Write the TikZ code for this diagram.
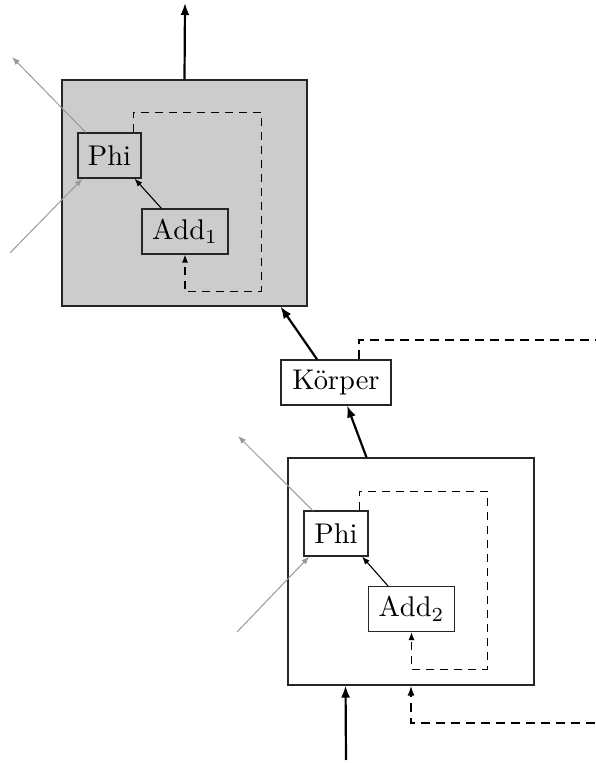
\documentclass[tikz,border=0pt]{standalone}
\usepackage{graphicx}
\usetikzlibrary{arrows.meta,calc}
% labels are set at 10pt and enlarged, keeping the 10pt design of the font
\newcommand{\boxtext}[1]{\scalebox{2.85}{#1}}
\begin{document}
\begin{tikzpicture}[x=1pt,y=1pt,
  every node/.style={font=\fontsize{10}{12}\selectfont},
  block/.style={draw=black!85,line width=1.1pt,inner sep=0pt},
  unit/.style={draw=black!85,line width=1.1pt,inner sep=0pt,minimum height=45pt},
  flow/.style={line width=2.2pt,-{Latex[length=12pt,width=9pt]}},
  link/.style={line width=1.1pt,-{Latex[length=8pt,width=6pt]}},
  side/.style={draw=black!40,line width=1pt,-{Latex[length=8pt,width=6pt]}},
  loop/.style={line width=1.1pt,dash pattern=on 8pt off 6pt,-{Latex[length=8pt,width=6pt]}},
  ctrl/.style={line width=1.8pt,dash pattern=on 9pt off 6pt},
]
\useasboundingbox (0,0) rectangle (595,763);

% upper stage (shaded)
\node[block,fill=black!20,minimum width=245pt,minimum height=226pt] (top) at (184.5,570) {};
\node[unit,minimum width=63pt] (phiA) at (109.5,607.5) {\boxtext{Phi}};
\node[unit,minimum width=86pt] (addA) at (185,531.5) {\boxtext{$\mathrm{Add}_1$}};

% body node between the stages
\node[unit,fill=white,minimum width=110pt] (body) at (336,380.5) {\boxtext{Körper}};

% lower stage
\node[block,minimum width=246pt,minimum height=227pt] (low) at (411,191.5) {};
\node[unit,minimum width=64pt] (phiB) at (336,229.5) {\boxtext{Phi}};
\node[unit,minimum width=86pt] (addB) at (411.5,154) {\boxtext{$\mathrm{Add}_2$}};

% free ends
\coordinate (outTop) at (185,760);
\coordinate (inLow) at (346,3);
\coordinate (ctrlIn) at (595,40);
\coordinate (ctrlOut) at (595,423);
\coordinate (gAout) at (12,706);
\coordinate (gAin) at (10,510);
\coordinate (gBout) at (238,327);
\coordinate (gBin) at (237,131);

% main data flow
\draw[flow] (top.north) -- (outTop);
\draw[flow] ($(body.north west)!0.33!(body.north east)$) -- ($(top.south west)!0.89!(top.south east)$);
\draw[flow] ($(low.north west)!0.32!(low.north east)$) -- ($(body.south west)!0.6!(body.south east)$);
\draw[flow] (inLow) -- ($(low.south west)!0.235!(low.south east)$);

% control path
\draw[ctrl,-{Latex[length=10pt,width=7pt]}] (ctrlIn) -| (low.south);
\draw[ctrl] ($(body.north west)!0.71!(body.north east)$) |- (ctrlOut);

% inside the stages
\draw[link] ($(addA.north west)!0.23!(addA.north east)$) -- ($(phiA.south west)!0.89!(phiA.south east)$);
\draw[link] ($(addB.north west)!0.23!(addB.north east)$) -- ($(phiB.south west)!0.9!(phiB.south east)$);
\draw[loop] ($(phiA.north west)!0.87!(phiA.north east)$) -- ++(0,20) -- ++(128,0) -- ++(0,-179) -| (addA.south);
\draw[loop] ($(phiB.north west)!0.86!(phiB.north east)$) -- ++(0,19) -- ++(128,0) -- ++(0,-178) -| (addB.south);

% side connections of the Phi nodes
\draw[side] ($(phiA.north west)!0.13!(phiA.north east)$) -- (gAout);
\draw[side] (gAin) -- ($(phiA.south west)!0.08!(phiA.south east)$);
\draw[side] ($(phiB.north west)!0.14!(phiB.north east)$) -- (gBout);
\draw[side] (gBin) -- ($(phiB.south west)!0.09!(phiB.south east)$);
\end{tikzpicture}
\end{document}
